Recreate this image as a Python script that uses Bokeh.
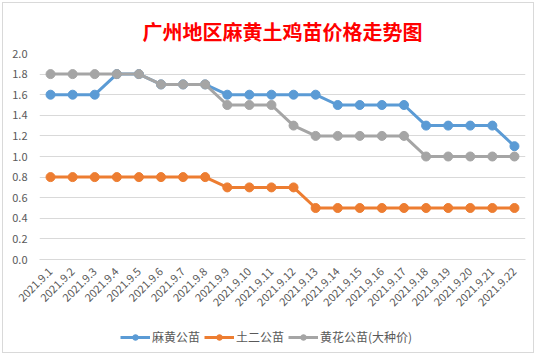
import math
from bokeh.plotting import figure
from bokeh.layouts import column
from bokeh.models import (FixedTicker, Legend, LegendItem, Title,
                          PrintfTickFormatter, Range1d, FactorRange, ColumnDataSource)
from bokeh.embed import file_html
from bokeh.resources import INLINE

dates = ["2021.9.%d" % d for d in range(1, 23)]
mahuang = [1.6, 1.6, 1.6, 1.8, 1.8, 1.7, 1.7, 1.7, 1.6, 1.6, 1.6, 1.6, 1.6,
           1.5, 1.5, 1.5, 1.5, 1.3, 1.3, 1.3, 1.3, 1.1]
tuer = [0.8, 0.8, 0.8, 0.8, 0.8, 0.8, 0.8, 0.8, 0.7, 0.7, 0.7, 0.7, 0.5,
        0.5, 0.5, 0.5, 0.5, 0.5, 0.5, 0.5, 0.5, 0.5]
huanghua = [1.8, 1.8, 1.8, 1.8, 1.8, 1.7, 1.7, 1.7, 1.5, 1.5, 1.5, 1.3, 1.2,
            1.2, 1.2, 1.2, 1.2, 1.0, 1.0, 1.0, 1.0, 1.0]
series_names = ["麻黄公苗", "土二公苗", "黄花公苗(大种价)"]
colors = ["#5B9BD5", "#ED7D31", "#A5A5A5"]
title_text = "广州地区麻黄土鸡苗价格走势图"
y_ticks = [0.0, 0.2, 0.4, 0.6, 0.8, 1.0, 1.2, 1.4, 1.6, 1.8, 2.0]

FONT = "Noto Sans CJK SC"

p = figure(width=530, height=322, x_range=FactorRange(*dates),
           y_range=Range1d(0, 2.0), output_backend="svg", toolbar_location=None,
           min_border_left=36, min_border_right=8, min_border_top=50,
           min_border_bottom=66)
p.x_range.factor_padding = 0
p.x_range.range_padding = 0
p.outline_line_color = None
p.background_fill_color = "white"
p.border_fill_color = "white"

t = Title(text=title_text, text_color="#FF0000", text_font=FONT,
          text_font_size="20px", text_font_style="bold", align="center",
          standoff=16, offset=0)
p.add_layout(t, "above")

p.xgrid.grid_line_color = None
p.ygrid.grid_line_color = "#D9D9D9"
p.ygrid.grid_line_width = 1
p.yaxis.ticker = FixedTicker(ticks=y_ticks)
p.yaxis.formatter = PrintfTickFormatter(format="%.1f")
p.yaxis.axis_line_color = None
p.yaxis.major_tick_line_color = None
p.yaxis.minor_tick_line_color = None
p.yaxis.major_label_text_color = "#595959"
p.yaxis.major_label_text_font = FONT
p.yaxis.major_label_text_font_size = "11px"
p.yaxis.major_label_standoff = 6

p.xaxis.axis_line_color = "#D9D9D9"
p.xaxis.major_tick_line_color = None
p.xaxis.minor_tick_line_color = None
p.xaxis.major_label_orientation = math.pi / 4
p.xaxis.major_label_text_color = "#595959"
p.xaxis.major_label_text_font = FONT
p.xaxis.major_label_text_font_size = "11px"
p.xaxis.major_label_standoff = 4

for name, vals, c in zip(series_names, [mahuang, tuer, huanghua], colors):
    p.line(dates, vals, line_color=c, line_width=3)
    p.scatter(dates, vals, size=9, fill_color=c, line_color=c)

# legend strip below the chart (hidden sample renderers outside its range)
p2 = figure(width=530, height=27, output_backend="svg", toolbar_location=None,
            min_border=0, x_range=Range1d(0, 1), y_range=Range1d(0, 1))
p2.axis.visible = False
p2.grid.visible = False
p2.outline_line_color = None
p2.background_fill_color = "white"
p2.border_fill_color = "white"
hidden = ColumnDataSource(data=dict(x=[-5, -4], y=[-5, -4]))
items = []
for name, c in zip(series_names, colors):
    r1 = p2.line("x", "y", source=hidden, line_color=c, line_width=3)
    r2 = p2.scatter("x", "y", source=hidden, size=9, fill_color=c, line_color=c)
    items.append(LegendItem(label=name, renderers=[r1, r2]))
legend = Legend(items=items, orientation="horizontal", location=(81, 7),
                label_text_font=FONT, label_text_font_size="12px",
                label_text_color="#595959", glyph_width=30, glyph_height=14,
                spacing=4, padding=0, margin=0, label_standoff=2,
                border_line_color=None, background_fill_alpha=0)
p2.add_layout(legend, "center")

layout = column(p, p2, spacing=0)
layout.margin = (3, 10, 5, 3)
layout.styles = {"outline": "1px solid #D9D9D9"}

open("out.html", "w").write(file_html(layout, INLINE))
